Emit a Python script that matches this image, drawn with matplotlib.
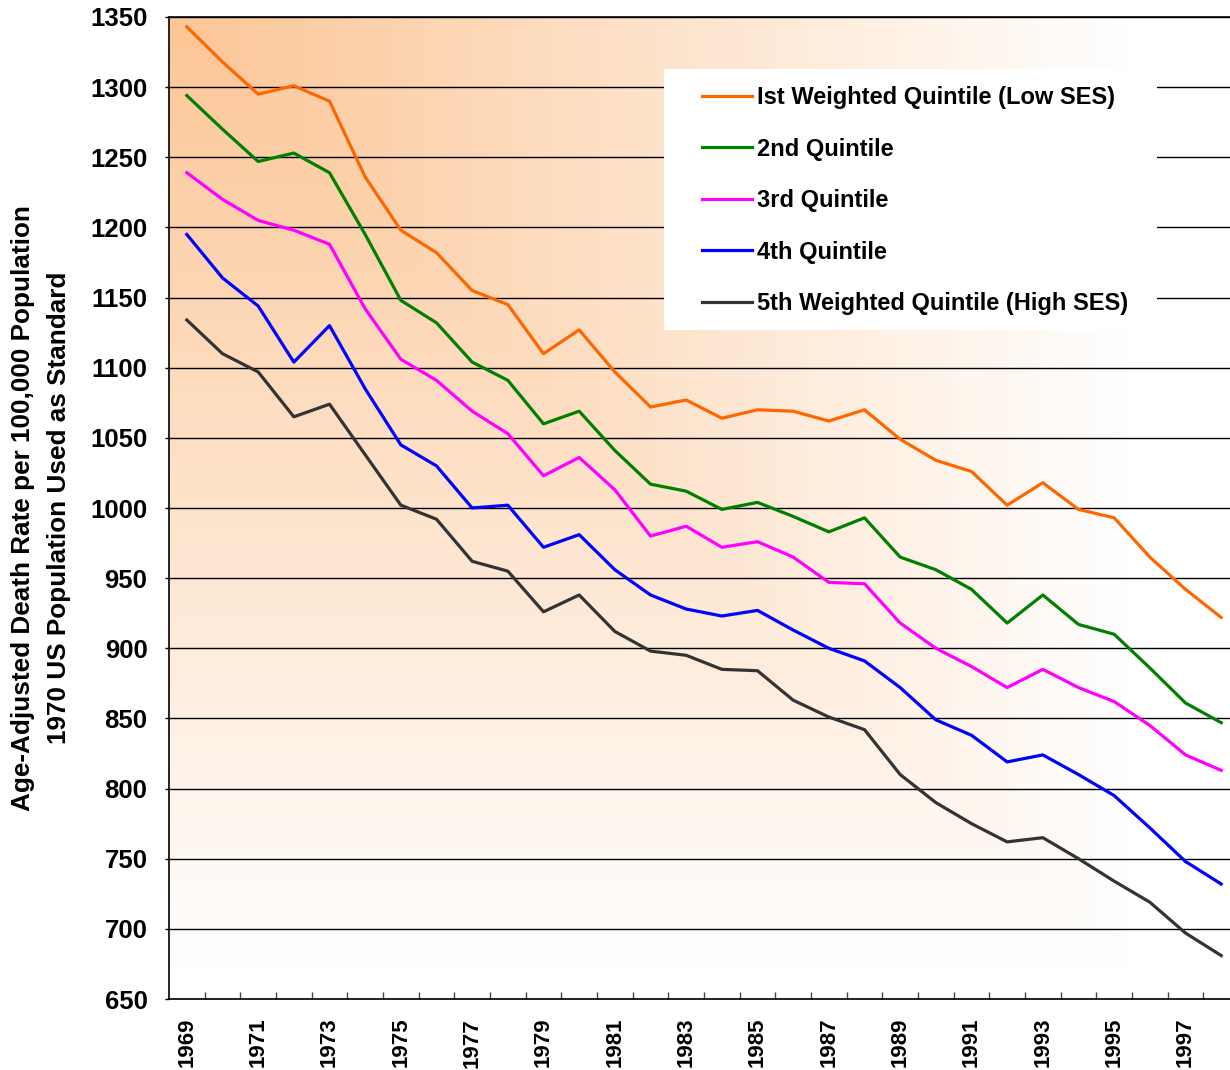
import numpy as np
import matplotlib
matplotlib.use('Agg')
import matplotlib.pyplot as plt
from matplotlib.patches import Rectangle

plt.rcParams['font.family'] = ['Liberation Sans', 'DejaVu Sans']
plt.rcParams['font.weight'] = 'bold'

# years on the category axis
years = list(range(1969, 1999))

# age-adjusted death rates
q1 = [1343, 1318, 1295, 1301, 1290, 1236, 1198, 1182, 1155, 1145, 1110, 1127, 1097, 1072, 1077,
      1064, 1070, 1069, 1062, 1070, 1049, 1034, 1026, 1002, 1018, 999, 993, 965, 942, 922]
q2 = [1294, 1270, 1247, 1253, 1239, 1195, 1148, 1132, 1104, 1091, 1060, 1069, 1041, 1017, 1012,
      999, 1004, 994, 983, 993, 965, 956, 942, 918, 938, 917, 910, 886, 861, 847]
q3 = [1239, 1220, 1205, 1198, 1188, 1142, 1106, 1091, 1069, 1053, 1023, 1036, 1013, 980, 987,
      972, 976, 965, 947, 946, 918, 900, 887, 872, 885, 872, 862, 845, 824, 813]
q4 = [1195, 1164, 1144, 1104, 1130, 1085, 1045, 1030, 1000, 1002, 972, 981, 956, 938, 928,
      923, 927, 913, 900, 891, 872, 849, 838, 819, 824, 810, 795, 772, 748, 732]
q5 = [1134, 1110, 1097, 1065, 1074, 1038, 1002, 992, 962, 955, 926, 938, 912, 898, 895,
      885, 884, 863, 851, 842, 810, 790, 775, 762, 765, 750, 734, 719, 697, 681]

labels = ['Ist Weighted Quintile (Low SES)', '2nd Quintile', '3rd Quintile',
          '4th Quintile', '5th Weighted Quintile (High SES)']
colors = ['#FF6600', '#008000', '#FF00FF', '#0000FF', '#333333']

W, H = 1230, 1070
fig = plt.figure(figsize=(W / 100, H / 100), dpi=100)
# plot area runs a bit past the right edge of the picture, like the original
ax = fig.add_axes([169 / W, 71 / H, 1070 / W, 982 / H])

x = np.arange(len(years))

# orange corner gradient fading to white
gy, gx = np.mgrid[0:1:300j, 0:1:300j]
t = np.clip(np.maximum(gx / 0.9, gy / 0.97), 0, 1)
c0 = np.array([252, 198, 150]) / 255.0
c1 = np.array([1.0, 1.0, 1.0])
grad = c0[None, None, :] * (1 - t[..., None]) + c1[None, None, :] * t[..., None]
ax.imshow(grad, extent=[0, 1, 0, 1], transform=ax.transAxes, aspect='auto',
          zorder=0, origin='upper')

for vals, lab, col in zip([q1, q2, q3, q4, q5], labels, colors):
    ax.plot(x, vals, color=col, lw=2.3, label=lab, zorder=3)

ax.set_xlim(-0.5, len(years) - 0.5)
ax.set_ylim(650, 1350)
ax.set_yticks(np.arange(650, 1351, 50))
ax.yaxis.grid(True, color='black', lw=1.0)
ax.set_axisbelow(True)

ax.set_xticks(x[::2])
ax.set_xticklabels([str(y) for y in years[::2]], rotation=90)
ax.set_xticks(x[:-1] + 0.5, minor=True)
ax.tick_params(axis='x', which='major', length=0, pad=13.5, labelsize=16)
ax.tick_params(axis='x', which='minor', direction='in', length=5, width=1, color='#444444')
ax.tick_params(axis='y', direction='out', length=3, width=1, pad=12.5, labelsize=18.5)

for s in ['left', 'bottom', 'top']:
    ax.spines[s].set_linewidth(1.2)
    ax.spines[s].set_color('black')
    ax.spines[s].set_zorder(4)
ax.spines['right'].set_visible(False)

fig.text(41 / W, 1 - 508 / H,
         'Age-Adjusted Death Rate per 100,000 Population\n1970 US Population Used as Standard',
         rotation=90, ha='center', va='center', fontsize=18.8, fontweight='bold',
         multialignment='center', linespacing=1.6)

# white box behind the legend
ax.add_patch(Rectangle((664 / W, 1 - 330 / H), 493 / W, 261 / H, transform=fig.transFigure,
                       facecolor='white', edgecolor='none', zorder=2))
leg = ax.legend(loc='upper left', bbox_to_anchor=(702 / W, 1 - 86 / H),
                bbox_transform=fig.transFigure, frameon=False, fontsize=17,
                borderpad=0, borderaxespad=0, handlelength=2.1, handletextpad=0.21,
                labelspacing=1.21)
leg.set_zorder(5)

plt.savefig('out.png', dpi=100)
